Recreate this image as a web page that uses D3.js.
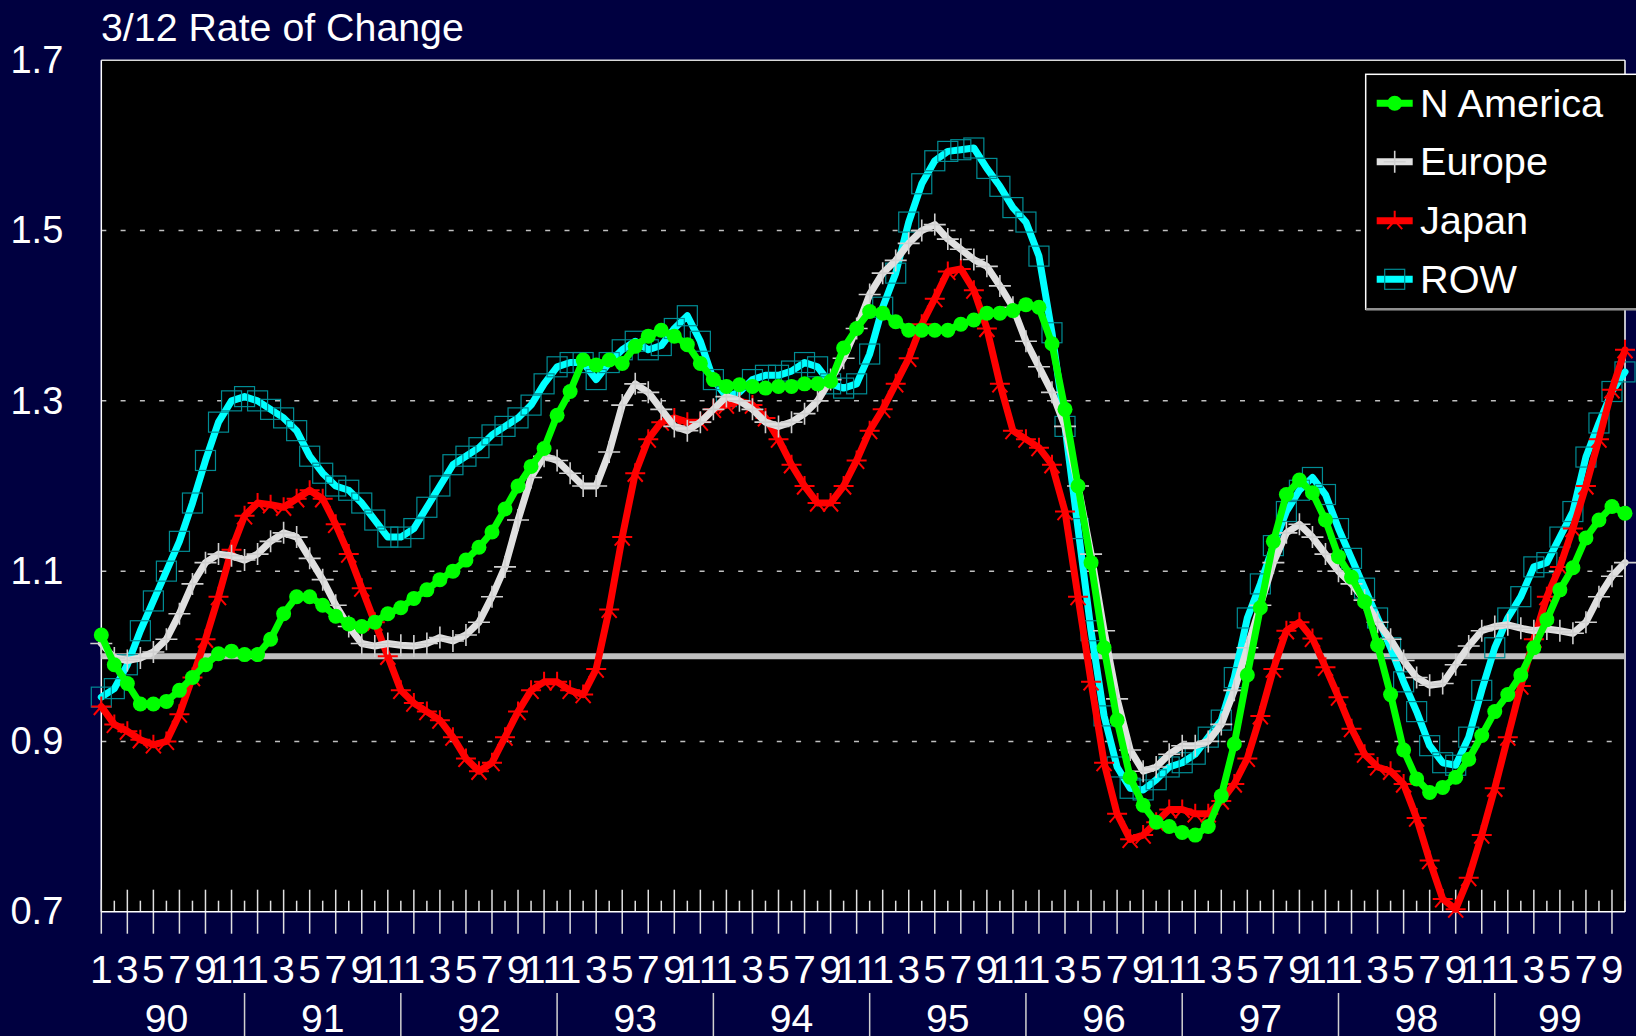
<!DOCTYPE html>
<html><head><meta charset="utf-8">
<script src="https://cdn.jsdelivr.net/npm/d3@7"></script>
<style>
html,body{margin:0;padding:0;background:#000040;}
svg{display:block;}
text{font-family:"Liberation Sans",Arial,Helvetica,sans-serif;fill:#ffffff;}
</style>
</head><body>
<svg id="chart" width="1636" height="1036"></svg>
<script>
// ---------------- data ----------------
const years = ["90","91","92","93","94","95","96","97","98","99"];
const monthNames = ["1","2","3","4","5","6","7","8","9","10","11","12"];
const monthTickLabels = ["1","3","5","7","9","11"];
const yTickValues = [0.7, 0.9, 1.1, 1.3, 1.5, 1.7];
const gridValues = [0.9, 1.1, 1.3, 1.5];
const referenceValue = 1.0;
const titleText = "3/12 Rate of Change";

const nAmerica = [1.025,0.99,0.968,0.944,0.944,0.947,0.96,0.975,0.99,1.003,1.006,1.002,
1.002,1.02,1.05,1.07,1.07,1.06,1.047,1.038,1.035,1.04,1.05,1.057,
1.068,1.078,1.09,1.1,1.113,1.128,1.146,1.173,1.2,1.223,1.244,1.283,
1.311,1.348,1.342,1.348,1.344,1.364,1.376,1.383,1.376,1.366,1.344,1.325,
1.317,1.319,1.317,1.315,1.317,1.317,1.32,1.32,1.323,1.362,1.385,1.405,
1.403,1.393,1.383,1.383,1.383,1.383,1.39,1.395,1.403,1.403,1.406,1.413,
1.41,1.367,1.29,1.2,1.11,1.01,0.925,0.858,0.825,0.805,0.8,0.793,
0.79,0.8,0.836,0.897,0.978,1.057,1.135,1.19,1.207,1.192,1.16,1.117,
1.093,1.064,1.013,0.955,0.89,0.856,0.84,0.846,0.858,0.879,0.907,0.935,
0.955,0.978,1.01,1.043,1.078,1.104,1.139,1.16,1.176,1.168];

const europe = [1.015,0.998,0.995,0.998,1.005,1.02,1.05,1.085,1.11,1.12,1.118,1.113,
1.12,1.135,1.145,1.14,1.115,1.09,1.06,1.035,1.015,1.012,1.015,1.013,
1.012,1.015,1.022,1.018,1.025,1.04,1.07,1.105,1.16,1.21,1.235,1.23,
1.215,1.2,1.2,1.24,1.295,1.32,1.31,1.29,1.27,1.265,1.275,1.29,
1.305,1.3,1.29,1.275,1.27,1.275,1.285,1.3,1.325,1.35,1.385,1.425,
1.45,1.465,1.485,1.5,1.507,1.49,1.478,1.466,1.458,1.435,1.41,1.37,
1.34,1.31,1.27,1.2,1.12,1.03,0.95,0.89,0.865,0.87,0.885,0.895,
0.895,0.9,0.92,0.96,1.01,1.06,1.11,1.145,1.155,1.14,1.12,1.1,
1.085,1.066,1.04,1.02,0.995,0.975,0.966,0.968,0.99,1.012,1.03,1.035,
1.037,1.033,1.03,1.032,1.03,1.027,1.04,1.07,1.094,1.11];

const japan = [0.941,0.92,0.912,0.902,0.896,0.9,0.932,0.975,1.02,1.07,1.125,1.165,
1.18,1.178,1.175,1.185,1.195,1.185,1.155,1.12,1.08,1.04,1.0,0.96,
0.945,0.935,0.925,0.905,0.88,0.865,0.875,0.905,0.935,0.96,0.97,0.97,
0.96,0.955,0.985,1.055,1.14,1.215,1.255,1.275,1.28,1.275,1.275,1.29,
1.295,1.3,1.295,1.28,1.255,1.225,1.2,1.18,1.18,1.2,1.23,1.265,
1.29,1.32,1.35,1.39,1.42,1.452,1.455,1.43,1.385,1.32,1.265,1.255,
1.245,1.225,1.17,1.07,0.97,0.875,0.815,0.785,0.79,0.805,0.82,0.82,
0.815,0.815,0.83,0.85,0.88,0.93,0.985,1.03,1.04,1.021,0.987,0.952,
0.915,0.885,0.87,0.865,0.85,0.81,0.76,0.715,0.703,0.74,0.79,0.845,
0.905,0.965,1.02,1.07,1.105,1.15,1.2,1.255,1.313,1.36];

const row = [0.952,0.962,0.99,1.03,1.065,1.1,1.135,1.18,1.23,1.275,1.3,1.305,
1.3,1.29,1.28,1.265,1.235,1.215,1.2,1.195,1.18,1.16,1.14,1.14,
1.15,1.175,1.2,1.225,1.235,1.245,1.26,1.27,1.28,1.295,1.32,1.34,
1.345,1.345,1.325,1.345,1.36,1.37,1.36,1.365,1.385,1.4,1.37,1.325,
1.305,1.31,1.325,1.33,1.33,1.335,1.345,1.34,1.32,1.315,1.32,1.355,
1.41,1.45,1.51,1.555,1.582,1.593,1.595,1.597,1.573,1.552,1.527,1.51,
1.47,1.38,1.27,1.15,1.03,0.93,0.87,0.845,0.843,0.855,0.87,0.875,
0.885,0.905,0.925,0.975,1.045,1.085,1.13,1.17,1.195,1.21,1.19,1.15,
1.115,1.08,1.045,1.01,0.97,0.935,0.895,0.875,0.872,0.905,0.96,1.01,
1.045,1.07,1.105,1.11,1.14,1.17,1.234,1.274,1.311,1.334];

const seriesNames = ["N America","Europe","Japan","ROW"];

// ---------------- setup ----------------
const categories = years.flatMap(y => monthNames.map(m => y + "-" + m)).slice(0, nAmerica.length);
const svg = d3.select("#chart");
const W = 1636, H = 1036;
const plot = {left: 101.3, right: 1625, top: 60.3, bottom: 911.7};

svg.append("rect").attr("width", W).attr("height", H).attr("fill", "#000040");

const x = d3.scalePoint().domain(categories).range([plot.left, plot.right]).padding(0);
const y = d3.scaleLinear().domain([0.7, 1.7]).range([plot.bottom, plot.top]);

function addText(g, tx, ty, str, size, anchor, sx) {
  return g.append("text")
    .attr("transform", `translate(${tx},${ty}) scale(${sx},1)`)
    .attr("text-anchor", anchor).attr("font-size", size).text(str);
}

// plot area
svg.append("rect").attr("x", plot.left).attr("y", plot.top)
  .attr("width", plot.right - plot.left).attr("height", plot.bottom - plot.top)
  .attr("fill", "#000000");

// grid lines
svg.append("g").selectAll("line").data(gridValues).join("line")
  .attr("x1", plot.left).attr("x2", plot.right)
  .attr("y1", d => y(d)).attr("y2", d => y(d))
  .attr("stroke", "#c0c0c0").attr("stroke-width", 1.5)
  .attr("stroke-dasharray", "5,14.3");

// borders
svg.append("line").attr("x1", plot.left).attr("x2", plot.right).attr("y1", plot.top).attr("y2", plot.top)
  .attr("stroke", "#d8d8d8").attr("stroke-width", 1.5);
svg.append("line").attr("x1", plot.left).attr("x2", plot.left).attr("y1", plot.top).attr("y2", plot.bottom)
  .attr("stroke", "#ffffff").attr("stroke-width", 1.5);
svg.append("line").attr("x1", plot.right).attr("x2", plot.right).attr("y1", plot.top).attr("y2", plot.bottom)
  .attr("stroke", "#ffffff").attr("stroke-width", 1.5);

// reference line at 1.0
svg.append("line").attr("x1", plot.left).attr("x2", plot.right)
  .attr("y1", y(referenceValue)).attr("y2", y(referenceValue))
  .attr("stroke", "#c0c0c0").attr("stroke-width", 6);

// x axis ticks
const tickG = svg.append("g");
categories.forEach((c, i) => {
  const major = i % 2 === 0;
  tickG.append("line")
    .attr("x1", x(c)).attr("x2", x(c))
    .attr("y1", major ? plot.bottom - 22 : plot.bottom - 11)
    .attr("y2", major ? plot.bottom + 22 : plot.bottom)
    .attr("stroke", "#e0e0e0").attr("stroke-width", 1.5);
});
svg.append("line").attr("x1", plot.left).attr("x2", plot.right).attr("y1", plot.bottom).attr("y2", plot.bottom)
  .attr("stroke", "#ffffff").attr("stroke-width", 1.5);

// month labels
const monthLabelG = svg.append("g");
categories.forEach((c, i) => {
  const m = c.split("-")[1];
  if (monthTickLabels.includes(m)) addText(monthLabelG, x(c), 983, m, 38, "middle", 1.07);
});

// year separators and labels
const idx = i => x(categories[Math.max(0, Math.min(categories.length - 1, i))]);
const yearG = svg.append("g");
years.forEach((yr, k) => {
  const startI = 12 * k - 1;
  const endI = Math.min(12 * k + 11, categories.length - 1);
  if (k > 0) {
    yearG.append("line").attr("x1", idx(startI)).attr("x2", idx(startI))
      .attr("y1", 993).attr("y2", H).attr("stroke", "#d0d0d0").attr("stroke-width", 1.5);
  }
  const step = x.step();
  const xs = plot.left + step * startI, xe = plot.left + step * endI;
  addText(yearG, (xs + xe) / 2, 1032, yr, 38, "middle", 1.03);
});

// y axis labels
const yAxis = d3.axisLeft(y).tickValues(yTickValues).tickSize(0).tickPadding(38)
  .tickFormat(d3.format(".1f"));
const yg = svg.append("g").attr("transform", `translate(${plot.left},0)`).call(yAxis);
yg.select(".domain").remove();
yg.selectAll("text").attr("font-size", 38).attr("fill", "#ffffff")
  .style("font-family", '"Liberation Sans",Arial,sans-serif');

// title
addText(svg, 101, 41, titleText, 38, "start", 1.035);

// ---------------- series ----------------
const line = d3.line().x((d, i) => x(categories[i])).y(d => y(d));

function plusMarker(g, cx, cy, s) {
  g.append("path").attr("d", `M${cx - s},${cy}H${cx + s}M${cx},${cy - s}V${cy + s}`)
    .attr("stroke", "#d0d0d0").attr("stroke-width", 1.6).attr("fill", "none");
}
function starMarker(g, cx, cy, s) {
  const dx = s * 0.75, dy = s * 0.85;
  g.append("path").attr("d",
    `M${cx - s},${cy}H${cx + s}M${cx},${cy}V${cy - s}M${cx},${cy}L${cx - dx},${cy + dy}M${cx},${cy}L${cx + dx},${cy + dy}`)
    .attr("stroke", "#ff0000").attr("stroke-width", 2).attr("fill", "none");
}
function squareMarker(g, cx, cy, s) {
  g.append("rect").attr("x", cx - s).attr("y", cy - s).attr("width", 2 * s).attr("height", 2 * s)
    .attr("fill", "none").attr("stroke", "#008c94").attr("stroke-width", 1.2);
}
function circleMarker(g, cx, cy, r) {
  g.append("circle").attr("cx", cx).attr("cy", cy).attr("r", r).attr("fill", "#00ff00");
}

const seriesDefs = [
  {name: "ROW", data: row, color: "#00ffff", marker: squareMarker, ms: 10},
  {name: "Japan", data: japan, color: "#ff0000", marker: starMarker, ms: 10},
  {name: "Europe", data: europe, color: "#e0e0e0", marker: plusMarker, ms: 11},
  {name: "N America", data: nAmerica, color: "#00ff00", marker: circleMarker, ms: 7.5}
];

seriesDefs.forEach(s => {
  const g = svg.append("g");
  g.append("path").datum(s.data).attr("d", line)
    .attr("fill", "none").attr("stroke", s.color).attr("stroke-width", 7)
    .attr("stroke-linejoin", "round").attr("stroke-linecap", "round");
  s.data.forEach((v, i) => s.marker(g, x(categories[i]), y(v), s.ms));
});

// ---------------- legend ----------------
const lg = svg.append("g");
const L = {x: 1365.7, y: 74.3, w: 290, h: 235};
lg.append("rect").attr("x", L.x).attr("y", L.y).attr("width", L.w).attr("height", L.h)
  .attr("fill", "#000000").attr("stroke", "#ffffff").attr("stroke-width", 1.5);
lg.append("line").attr("x1", L.x).attr("x2", L.x + L.w).attr("y1", L.y + L.h).attr("y2", L.y + L.h)
  .attr("stroke", "#909090").attr("stroke-width", 2.5);
const legendOrder = ["N America", "Europe", "Japan", "ROW"];
const legendY = [103.3, 161.7, 220.7, 279.3];
legendOrder.forEach((name, k) => {
  const s = seriesDefs.find(d => d.name === name);
  const cy = legendY[k];
  lg.append("line").attr("x1", 1376.7).attr("x2", 1412.7).attr("y1", cy).attr("y2", cy)
    .attr("stroke", s.color).attr("stroke-width", 7);
  s.marker(lg, 1394.7, cy, s.ms);
  addText(lg, 1420, cy + 13.5, name, 38, "start", 1.045);
});
</script>
</body></html>
